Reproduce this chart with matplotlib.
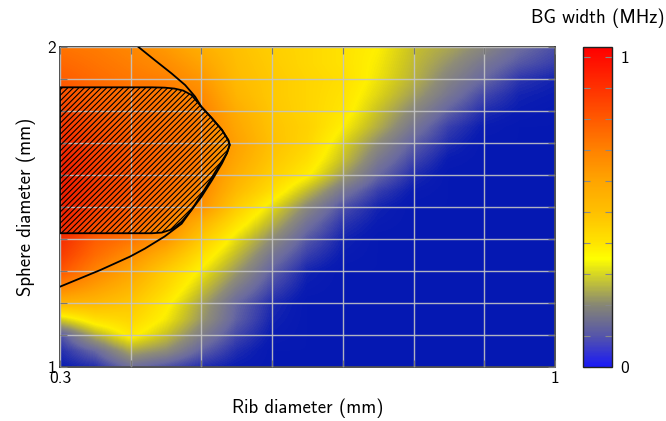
import numpy as np
import matplotlib
matplotlib.use("Agg")
import matplotlib.pyplot as plt
from matplotlib.colors import LinearSegmentedColormap, Normalize
from matplotlib.cm import ScalarMappable

plt.rcParams["font.family"] = ["cmss10", "DejaVu Sans"]
plt.rcParams["hatch.linewidth"] = 0.8

# grid of the map: rib diameter (mm) across, sphere diameter (mm) up
rib_d = [0.30, 0.35, 0.40, 0.45, 0.50, 0.55, 0.60, 0.65,
         0.70, 0.75, 0.80, 0.85, 0.90, 0.95, 1.00]
sphere_d = [1.00, 1.05, 1.10, 1.15, 1.20, 1.25, 1.30, 1.35, 1.40, 1.45, 1.50,
            1.55, 1.60, 1.65, 1.70, 1.75, 1.80, 1.85, 1.90, 1.95, 2.00]

# band-gap width (MHz), one row per sphere diameter
bg_width = [
    [0.03, 0.05, 0.13, 0.09, 0.05, 0.03, 0.02, 0.02, 0.02, 0.02, 0.02, 0.02, 0.02, 0.02, 0.02],
    [0.05, 0.12, 0.24, 0.20, 0.11, 0.05, 0.02, 0.02, 0.02, 0.02, 0.02, 0.02, 0.02, 0.02, 0.02],
    [0.09, 0.25, 0.37, 0.28, 0.17, 0.08, 0.03, 0.02, 0.02, 0.02, 0.02, 0.02, 0.02, 0.02, 0.02],
    [0.30, 0.40, 0.43, 0.34, 0.22, 0.11, 0.04, 0.02, 0.02, 0.02, 0.02, 0.02, 0.02, 0.02, 0.02],
    [0.55, 0.53, 0.48, 0.37, 0.24, 0.12, 0.05, 0.02, 0.02, 0.02, 0.02, 0.02, 0.02, 0.02, 0.02],
    [0.70, 0.62, 0.54, 0.42, 0.29, 0.17, 0.08, 0.03, 0.02, 0.02, 0.02, 0.02, 0.02, 0.02, 0.02],
    [0.82, 0.70, 0.60, 0.46, 0.34, 0.22, 0.11, 0.04, 0.02, 0.02, 0.02, 0.02, 0.02, 0.02, 0.02],
    [0.88, 0.76, 0.67, 0.55, 0.40, 0.27, 0.15, 0.07, 0.03, 0.02, 0.02, 0.02, 0.02, 0.02, 0.02],
    [0.92, 0.80, 0.74, 0.65, 0.47, 0.32, 0.20, 0.10, 0.04, 0.02, 0.02, 0.02, 0.02, 0.02, 0.02],
    [0.95, 0.84, 0.78, 0.71, 0.55, 0.39, 0.26, 0.14, 0.06, 0.03, 0.02, 0.02, 0.02, 0.02, 0.02],
    [0.97, 0.87, 0.80, 0.74, 0.66, 0.46, 0.32, 0.19, 0.09, 0.04, 0.02, 0.02, 0.02, 0.02, 0.02],
    [0.98, 0.88, 0.82, 0.75, 0.69, 0.52, 0.40, 0.27, 0.15, 0.07, 0.03, 0.02, 0.02, 0.02, 0.02],
    [0.98, 0.88, 0.82, 0.76, 0.71, 0.56, 0.45, 0.36, 0.23, 0.12, 0.05, 0.02, 0.02, 0.02, 0.02],
    [0.96, 0.87, 0.81, 0.76, 0.72, 0.59, 0.48, 0.40, 0.28, 0.16, 0.08, 0.03, 0.02, 0.02, 0.02],
    [0.93, 0.86, 0.80, 0.76, 0.72, 0.61, 0.50, 0.43, 0.31, 0.20, 0.11, 0.05, 0.02, 0.02, 0.02],
    [0.90, 0.83, 0.78, 0.75, 0.72, 0.59, 0.49, 0.44, 0.35, 0.25, 0.15, 0.07, 0.03, 0.02, 0.02],
    [0.87, 0.81, 0.77, 0.74, 0.71, 0.57, 0.48, 0.43, 0.38, 0.28, 0.19, 0.11, 0.05, 0.03, 0.02],
    [0.83, 0.78, 0.75, 0.73, 0.68, 0.54, 0.47, 0.43, 0.39, 0.31, 0.23, 0.15, 0.08, 0.04, 0.03],
    [0.80, 0.76, 0.73, 0.71, 0.64, 0.52, 0.47, 0.43, 0.40, 0.33, 0.26, 0.18, 0.12, 0.06, 0.04],
    [0.77, 0.74, 0.71, 0.67, 0.60, 0.51, 0.46, 0.42, 0.39, 0.34, 0.27, 0.21, 0.15, 0.10, 0.07],
    [0.74, 0.72, 0.69, 0.63, 0.56, 0.50, 0.45, 0.42, 0.39, 0.35, 0.28, 0.24, 0.19, 0.13, 0.09],
]

# contour line of the map
contour_rib = [0.411, 0.434, 0.458, 0.477, 0.491, 0.500, 0.515, 0.529, 0.538, 0.540,
               0.536, 0.529, 0.515, 0.500, 0.486, 0.472, 0.448, 0.420, 0.399, 0.357, 0.300]
contour_sphere = [2.000, 1.959, 1.917, 1.881, 1.845, 1.813, 1.777, 1.741, 1.709, 1.694,
                  1.668, 1.636, 1.584, 1.532, 1.491, 1.448, 1.408, 1.370, 1.345, 1.303, 1.251]

# hatched region outline
region_rib = [0.300, 0.430, 0.448, 0.462, 0.474, 0.486, 0.500, 0.515, 0.529, 0.538, 0.540,
              0.536, 0.524, 0.510, 0.498, 0.486, 0.472, 0.458, 0.444, 0.430, 0.300]
region_sphere = [1.874, 1.874, 1.873, 1.870, 1.864, 1.850, 1.813, 1.777, 1.741, 1.709, 1.694,
                 1.668, 1.626, 1.574, 1.532, 1.491, 1.454, 1.430, 1.420, 1.418, 1.418]

vmax = 1.033
levels = [0.0, 0.03, 0.07, 0.12, 0.2, 0.29, 0.35, 0.42, 0.5, 0.6, 0.7, 0.8, 0.9, vmax]
map_colors = ["#0014b4", "#0a1cb2", "#3a40ac", "#6a6aa0", "#8e8c78", "#d0c81e", "#fff000",
              "#ffd800", "#ffc000", "#ffa400", "#ff8400", "#ff5c00", "#f73400", "#e80c00"]
cbar_levels = [0.0, 0.1, 0.2, 0.3, 0.35, 0.4, 0.5, 0.6, 0.7, 0.8, 0.9, vmax]
cbar_colors = ["#1919f5", "#5555aa", "#878773", "#d7d723", "#ffff00", "#ffe400",
               "#ffc000", "#ffa500", "#ff8200", "#ff5a00", "#ff3200", "#ff0000"]

map_cmap = LinearSegmentedColormap.from_list(
    "bgmap", list(zip(np.array(levels) / vmax, map_colors)))
bar_cmap = LinearSegmentedColormap.from_list(
    "bgbar", list(zip(np.array(cbar_levels) / vmax, cbar_colors)))
norm = Normalize(0.0, vmax)

fig = plt.figure(figsize=(6.66, 4.21), dpi=100)
ax = fig.add_axes([60 / 666, 54 / 421, 495 / 666, 320 / 421])
cax = fig.add_axes([583 / 666, 54 / 421, 29 / 666, 320 / 421])

# cell centres sit on the grid points
dx = (rib_d[1] - rib_d[0]) / 2
dy = (sphere_d[1] - sphere_d[0]) / 2
ax.imshow(np.array(bg_width), cmap=map_cmap, norm=norm, origin="lower",
          extent=[rib_d[0] - dx, rib_d[-1] + dx, sphere_d[0] - dy, sphere_d[-1] + dy],
          aspect="auto", interpolation="bilinear", interpolation_stage="data",
          zorder=0)

ax.fill(region_rib, region_sphere, facecolor="none", edgecolor="black",
        hatch="//////", lw=1.3, zorder=3)
ax.plot(contour_rib, contour_sphere, color="black", lw=1.3, zorder=4)

ax.set_xlim(0.3, 1.0)
ax.set_ylim(1.0, 2.0)
xt = np.round(np.arange(0.3, 1.001, 0.1), 2)
yt = np.round(np.arange(1.0, 2.001, 0.1), 2)
ax.set_xticks(xt)
ax.set_xticklabels(["0.3"] + [""] * (len(xt) - 2) + ["1"])
ax.set_yticks(yt)
ax.set_yticklabels(["1"] + [""] * (len(yt) - 2) + ["2"])
ax.set_axisbelow(False)
ax.grid(True, color="#c4c4c4", lw=1.0, alpha=0.9)
ax.tick_params(direction="in", length=5, color="#777777", top=True, right=True,
               labelsize=12.5, pad=3)
for sp in ax.spines.values():
    sp.set_color("#333333")
    sp.set_linewidth(1.2)
ax.set_xlabel("Rib diameter (mm)", fontsize=13.5, labelpad=9)
ax.set_ylabel("Sphere diameter (mm)", fontsize=13.5, labelpad=8)

cb = fig.colorbar(ScalarMappable(norm=norm, cmap=bar_cmap), cax=cax)
ct = np.round(np.arange(0.0, 1.001, 0.1), 2)
cb.set_ticks(ct)
cb.set_ticklabels(["0"] + [""] * (len(ct) - 2) + ["1"])
cax.tick_params(direction="in", length=5, color="#888888", left=True, right=True,
                labelsize=12.5, pad=6)
cb.outline.set_linewidth(1.0)
cb.outline.set_edgecolor("#222222")
cb.minorticks_off()
fig.text(598 / 666, 1 - 18 / 421, "BG width (MHz)", ha="center", va="center",
         fontsize=13.5)

fig.savefig("out.png", dpi=100)
